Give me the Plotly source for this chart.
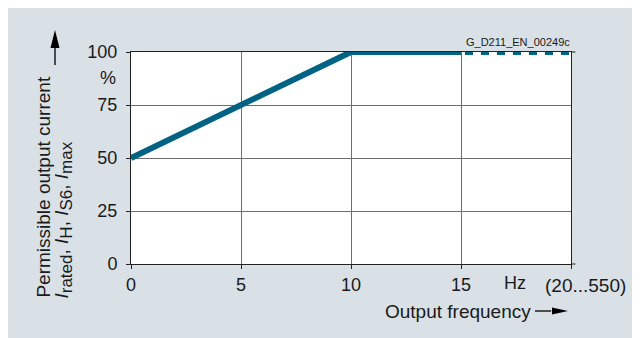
import plotly.graph_objects as go

# permissible current vs output frequency
freq_solid = [0, 10, 15]
current_solid = [50, 100, 100]
freq_dashed = [15, 20]
current_dashed = [100, 100]

x_ticks = [0, 5, 10, 15, 20]
x_ticktext = ["0", "5", "10", "15", "(20...550)"]
y_ticks = [0, 25, 50, 75, 100]
y_ticktext = ["0", "25", "50", "75", "100"]

LINE_COLOR = "#006384"
BG_GREY = "#d9e1e6"
FONT = "Liberation Sans, Arial, sans-serif"
TEXT_COLOR = "#1a1a1a"

fig = go.Figure()
fig.add_trace(
    go.Scatter(
        x=freq_solid,
        y=current_solid,
        mode="lines",
        line=dict(color=LINE_COLOR, width=6),
        cliponaxis=False,
        showlegend=False,
    )
)
fig.add_trace(
    go.Scatter(
        x=freq_dashed,
        y=current_dashed,
        mode="lines",
        line=dict(color=LINE_COLOR, width=6, dash="0px,4px,8px,4px"),
        cliponaxis=False,
        showlegend=False,
    )
)

axis_common = dict(
    showline=True,
    linecolor="#222222",
    linewidth=1,
    mirror=True,
    showgrid=True,
    gridcolor="#6e6e6e",
    gridwidth=1,
    zeroline=False,
    ticks="outside",
    ticklen=4,
    tickcolor="#222222",
    tickfont=dict(family=FONT, size=18, color=TEXT_COLOR),
)

# last x label sits right of its tick in the original, so it is an annotation
fig.update_xaxes(
    range=[0, 20],
    tickvals=x_ticks,
    ticktext=x_ticktext[:-1] + [""],
    ticklabelstandoff=0,
    **axis_common,
)
fig.update_yaxes(
    range=[0, 100],
    tickvals=y_ticks,
    ticktext=[t + "\u00a0" for t in y_ticktext],
    **axis_common,
)

shapes = [
    # axis lines run a little past the right border
    dict(type="line", xref="paper", yref="paper", x0=1, x1=1.01, y0=0, y1=0,
         line=dict(color="#222222", width=1)),
    dict(type="line", xref="paper", yref="paper", x0=1, x1=1.01, y0=1, y1=1,
         line=dict(color="#222222", width=1)),
    # y arrow
    dict(type="line", xref="paper", yref="paper", x0=-0.1727, x1=-0.1727,
         y0=0.9387, y1=1.02, line=dict(color="black", width=1.3)),
    dict(type="path", xref="paper", yref="paper",
         path="M -0.1829 1.0189 L -0.1625 1.0189 L -0.1727 1.1038 Z",
         fillcolor="black", line=dict(width=0)),
    # x arrow
    dict(type="line", xref="paper", yref="paper", x0=0.9182, x1=0.955,
         y0=-0.2217, y1=-0.2217, line=dict(color="black", width=1.3)),
    dict(type="path", xref="paper", yref="paper",
         path="M 0.9568 -0.2052 L 0.9568 -0.2382 L 0.9932 -0.2217 Z",
         fillcolor="black", line=dict(width=0)),
]


def sub(s):
    return "<sub><span style='font-size:17px'>%s</span></sub>" % s


title_line2 = ", ".join("<i>I</i>" + sub(s) for s in ["rated", "H", "S6", "max"])

text_font = dict(family=FONT, size=18, color=TEXT_COLOR)
annotations = [
    dict(text="%", xref="paper", yref="paper", x=-0.0295, y=0.877,
         xanchor="right", yanchor="middle", showarrow=False, font=text_font),
    dict(text="Hz", xref="x", yref="paper", x=17.45, y=-0.09,
         xanchor="center", yanchor="middle", showarrow=False, font=text_font),
    dict(text=x_ticktext[-1], xref="paper", yref="paper", x=0.9364, y=-0.1,
         xanchor="left", yanchor="middle", showarrow=False,
         font=dict(family=FONT, size=19, color=TEXT_COLOR)),
    dict(text="Output frequency", xref="paper", yref="paper", x=0.9136, y=-0.2217,
         xanchor="right", yanchor="middle", showarrow=False,
         font=dict(family=FONT, size=19, color=TEXT_COLOR)),
    dict(text="Permissible output current",
         xref="paper", yref="paper", x=-0.1977, y=-0.17,
         xanchor="center", yanchor="bottom", textangle=-90,
         showarrow=False, font=dict(family=FONT, size=19, color=TEXT_COLOR)),
    dict(text=title_line2,
         xref="paper", yref="paper", x=-0.1523, y=-0.17,
         xanchor="center", yanchor="bottom", textangle=-90,
         showarrow=False, font=dict(family=FONT, size=19, color=TEXT_COLOR)),
    dict(text="G_D211_EN_00249c", xref="paper", yref="paper", x=1.0023, y=1.047,
         xanchor="right", yanchor="middle", showarrow=False,
         font=dict(family=FONT, size=11, color=TEXT_COLOR)),
]

fig.update_layout(
    width=640,
    height=338,
    margin=dict(l=123, r=77, t=44, b=82),
    paper_bgcolor=BG_GREY,
    plot_bgcolor="white",
    shapes=shapes,
    annotations=annotations,
    font=dict(family=FONT),
)

fig.write_html("out.html")
